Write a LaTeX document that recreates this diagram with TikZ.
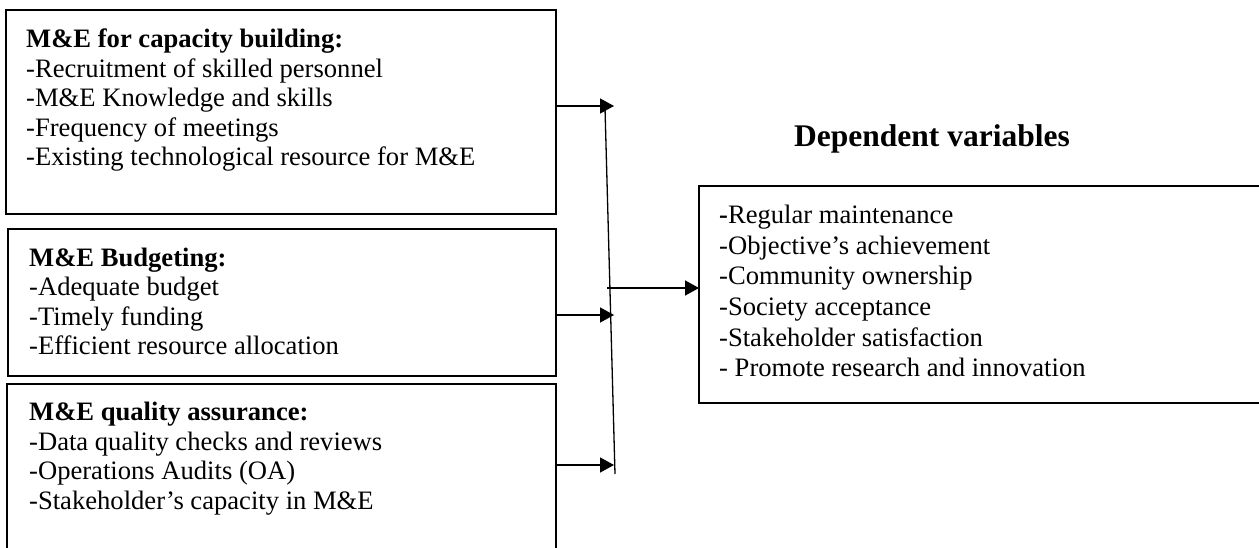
\documentclass[tikz,border=0pt]{standalone}
\usepackage{fontspec}
\setmainfont{Liberation Serif}
\usetikzlibrary{arrows.meta}
\tikzset{
  box/.style={draw, line width=1.6pt, anchor=north west, inner sep=0pt, outer sep=0pt},
  txt/.style={anchor=north west, inner sep=0pt, align=left, font=\fontsize{26.6}{29.5}\selectfont},
  arr/.style={line width=1.5pt, -{Triangle[length=14pt,width=15pt]}},
  vline/.style={line width=1.3pt}
}
\begin{document}
\begin{tikzpicture}[x=1pt,y=-1pt]
\useasboundingbox (0,0) rectangle (1259,548);
\fill[white] (0,0) rectangle (1259,548);
\clip (0,0) rectangle (1259,548);
% boxes
\node[box, minimum width=550pt, minimum height=204pt] (b1) at (6,10) {};
\node[box, minimum width=548pt, minimum height=147pt] (b2) at (8,229) {};
\node[box, minimum width=549pt, minimum height=230pt] (b3) at (7,384) {};
\node[box, minimum width=620pt, minimum height=217pt] (dv) at (699,186) {};
% texts
\node[txt] (t1) at (26,27) {\strut\textbf{M\&E for capacity building:}\\-Recruitment of skilled personnel\\-M\&E Knowledge and skills\\-Frequency of meetings\\-Existing technological resource for M\&E};
\node[txt] (t2) at (29,245.5) {\strut\textbf{M\&E Budgeting:}\\-Adequate budget\\-Timely funding\\-Efficient resource allocation};
\node[txt] (t3) at (29,400) {\strut\textbf{M\&E quality assurance:}\\-Data quality checks and reviews\\-Operations Audits (OA)\\-Stakeholder's capacity in M\&E};
\node[txt, font=\fontsize{26.6}{30.6}\selectfont] (t4) at (719,202) {\strut\textbf{-}Regular maintenance\\-Objective's achievement\\-Community ownership\\-Society acceptance\\-Stakeholder satisfaction\\- Promote research and innovation};
\node[anchor=base west, inner sep=0pt, font=\fontsize{31.5}{36}\selectfont\bfseries] (dvt) at (794,147) {Dependent variables};
% connector geometry
\coordinate (vtop) at (605,108);
\coordinate (vbot) at (615,474);
\coordinate (a1) at (614,106);
\coordinate (a2) at (614,315);
\coordinate (a3) at (614,465);
\coordinate (m) at (607,288);
\draw[vline] (vtop) -- (vbot);
\draw[arr] (b1.east |- a1) -- (a1);
\draw[arr] (b2.east |- a2) -- (a2);
\draw[arr] (b3.east |- a3) -- (a3);
\draw[arr] (m) -- (dv.west |- m);
\end{tikzpicture}
\end{document}
